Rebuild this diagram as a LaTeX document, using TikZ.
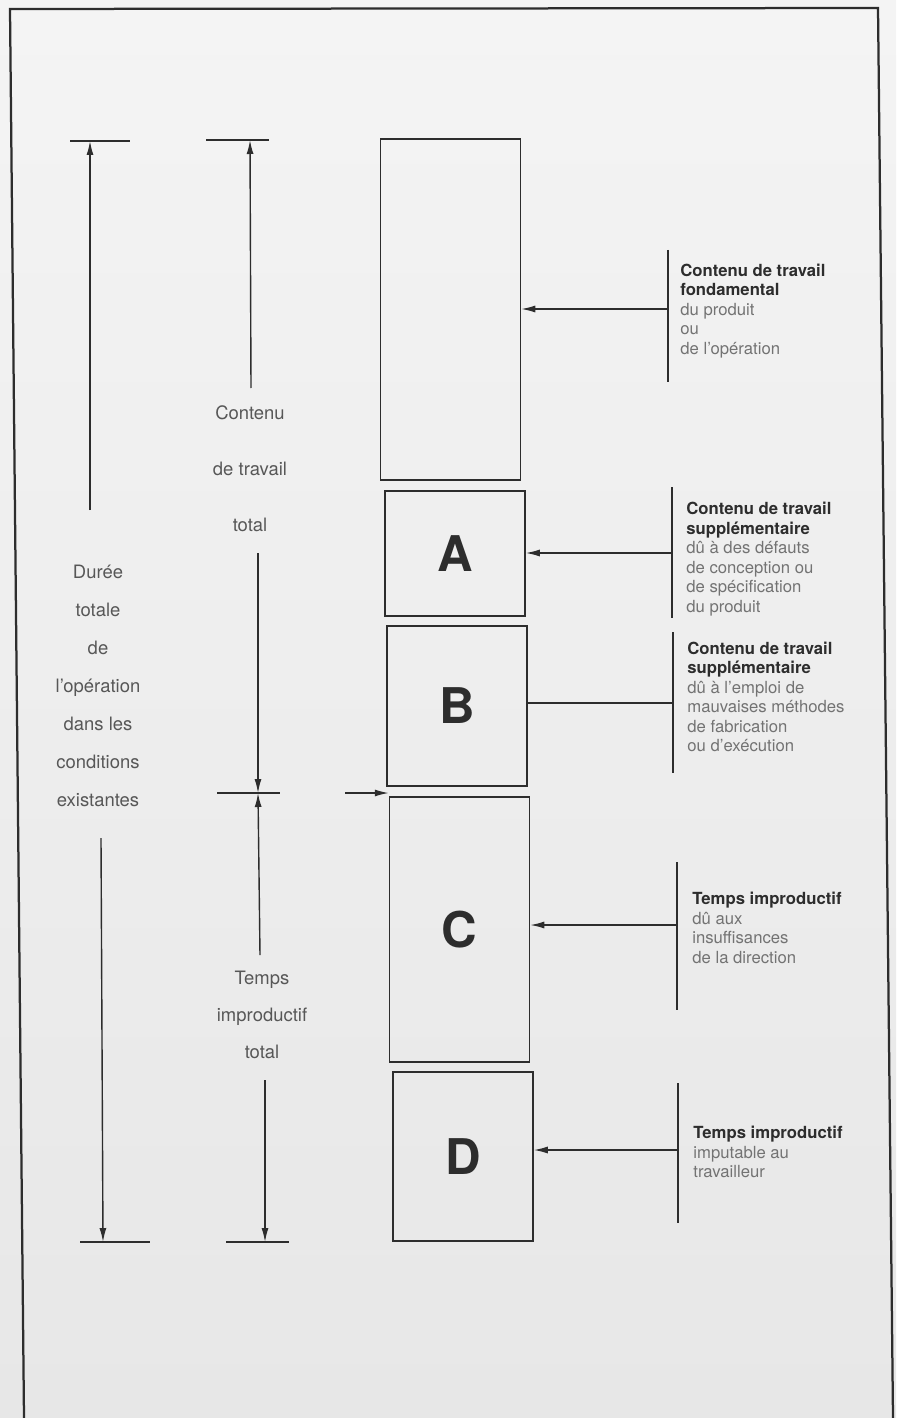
\documentclass[tikz,border=0pt]{standalone}
\usepackage{fontspec}
\setmainfont{TeX Gyre Heros}
\usetikzlibrary{arrows.meta}
\definecolor{paper}{RGB}{244,244,244}
\definecolor{paperlow}{RGB}{231,231,231}
\definecolor{ink}{RGB}{45,45,45}
\definecolor{greytext}{RGB}{115,115,115}
\newcommand{\hd}[1]{\textbf{\color{ink}#1}}

\begin{document}
\begin{tikzpicture}[x=0.2mm, y=-0.2mm,
  blk/.style = {draw=ink, line width=0.3mm, minimum width=28mm, inner sep=0, text=ink, font=\fontsize{28}{30}\selectfont\bfseries},
  lbl/.style = {anchor=west, align=left, inner sep=0, text=greytext, font=\fontsize{9.5}{11.1}\selectfont},
  dim/.style = {align=center, inner sep=0, text=ink!80, font=\fontsize{10.5}{21.6}\selectfont},
  ln/.style  = {draw=ink, line width=0.28mm},
  arr/.style = {ln, -{Latex[length=2.8mm,width=1.4mm]}}]

  \useasboundingbox (0,0) rectangle (896,1418);
  \shade[top color=paper, bottom color=paperlow] (0,0) rectangle (896,1418);
  % frame of the page
  \draw[draw=ink, line width=0.45mm] (24,1418) -- (10,9) -- (878,8) -- (893,1418);

  % the work content blocks
  \node[blk, minimum height=68.2mm] (F) at (450.5,309.5) {};
  \node[blk, minimum height=25mm]   (A) at (455,553.5)   {A};
  \node[blk, minimum height=32mm]   (B) at (457,706)     {B};
  \node[blk, minimum height=53mm]   (C) at (459.5,929.5) {C};
  \node[blk, minimum height=33.8mm] (D) at (463,1156.5)  {D};

  % texts on the right
  \node[lbl] (tF) at (680,311)  {\hd{Contenu de travail}\\\hd{fondamental}\\du produit\\ou\\de l'opération};
  \node[lbl] (tA) at (686,559)  {\hd{Contenu de travail}\\\hd{supplémentaire}\\dû à des défauts\\de conception ou\\de spécification\\du produit};
  \node[lbl] (tB) at (687,697)  {\hd{Contenu de travail}\\\hd{supplémentaire}\\dû à l'emploi de\\mauvaises méthodes\\de fabrication\\ou d'exécution};
  \node[lbl] (tC) at (692,928)  {\hd{Temps improductif}\\dû aux\\insuffisances\\de la direction};
  \node[lbl] (tD) at (693,1152) {\hd{Temps improductif}\\imputable au\\travailleur};

  % brackets and pointers
  \coordinate (kF) at (668,309);
  \coordinate (kA) at (672,553);
  \coordinate (kB) at (673,703);
  \coordinate (kC) at (677,925);
  \coordinate (kD) at (678,1150);
  \draw[ln] (kF) ++(0,-59) -- ++(0,132);
  \draw[ln] (kA) ++(0,-66) -- ++(0,131);
  \draw[ln] (kB) ++(0,-71) -- ++(0,141);
  \draw[ln] (kC) ++(0,-63) -- ++(0,148);
  \draw[ln] (kD) ++(0,-67) -- ++(0,140);
  \draw[arr] (kF) -- (kF -| F.east);
  \draw[arr] (kA) -- (kA -| A.east);
  \draw[ln]  (kB) -- (kB -| B.east);
  \draw[arr] (kC) -- (kC -| C.east);
  \draw[arr] (kD) -- (kD -| D.east);

  % total duration
  \node[dim] (dur) at (98,686) {Durée\\totale\\de\\l'opération\\dans les\\conditions\\existantes};
  \coordinate (d0) at (90,141);
  \coordinate (d1) at (90,510);
  \coordinate (d2) at (101,838);
  \coordinate (d3) at (103,1242);
  \draw[arr] (d1) -- (d0);
  \draw[arr] (d2) -- (d3);
  \draw[ln] (d0) ++(-20,0) -- ++(60,0);
  \draw[ln] (d3) ++(-23,0) -- ++(70,0);

  % work content and ineffective time
  \node[dim, font=\fontsize{10.5}{31.9}\selectfont] (ctt) at (250,469)  {Contenu\\de travail\\total};
  \node[dim, font=\fontsize{10.5}{21}\selectfont]   (tit) at (262,1015) {Temps\\improductif\\total};
  \coordinate (c0) at (250,140);
  \coordinate (c1) at (251,388);
  \coordinate (c2) at (258,553);
  \coordinate (c3) at (258,793);
  \coordinate (c4) at (260,955);
  \coordinate (c5) at (265,1080);
  \coordinate (c6) at (265,1242);
  \draw[arr] (c1) -- (c0);
  \draw[arr] (c2) -- (c3);
  \draw[arr] (c4) -- (c3);
  \draw[arr] (c5) -- (c6);
  \draw[ln] (c0) ++(-44,0) -- ++(63,0);
  \draw[ln] (c3) ++(-41,0) -- ++(63,0);
  \draw[ln] (c6) ++(-39,0) -- ++(63,0);

  \coordinate (m0) at (345,793);
  \draw[arr] (m0) -- (m0 -| C.west);
\end{tikzpicture}
\end{document}
